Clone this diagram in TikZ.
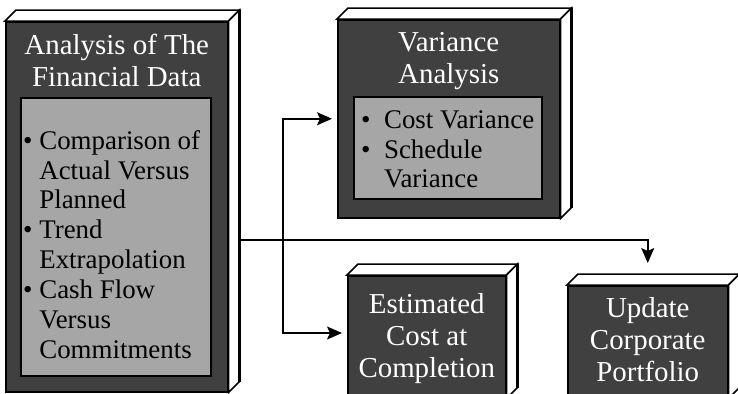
\documentclass[tikz,border=0pt]{standalone}
\usepackage{fontspec}
\setmainfont{Liberation Serif}
\usetikzlibrary{arrows.meta,calc,positioning}
\definecolor{slabgray}{HTML}{404040}
\definecolor{panelgray}{HTML}{A6A6A6}
\tikzset{
  % front face of a box; top and right faces are added by \slabsides
  slab/.style     = {draw=black, line width=1.5bp, fill=slabgray,
                     inner sep=0pt, anchor=north west},
  slabside/.style = {draw=black, line width=1.5bp, fill=white},
  panel/.style    = {draw=black, line width=1.5bp, fill=panelgray,
                     inner sep=0pt, anchor=north west},
  title/.style    = {text=white, align=center, inner sep=0pt,
                     font=\fontsize{29}{32}\selectfont},
  items/.style    = {text=black, inner sep=0pt,
                     font=\fontsize{27}{30}\selectfont},
  flow/.style     = {line width=1.5bp,
                     -{Stealth[length=15bp, width=13bp, inset=3bp]}},
}
\newcommand{\slabsides}[1]{%
  \draw[slabside] (#1.north west) -- ++(11,-11)
    -- ($(#1.north east)+(11,-11)$) -- (#1.north east) -- cycle;
  \draw[slabside] (#1.north east) -- ++(11,-11)
    -- ($(#1.south east)+(11,-11)$) -- (#1.south east) -- cycle;
  \draw[line width=3bp] ($(#1.north east)+(11,-11)$)
    -- ($(#1.south east)+(11,-11)$);
}

\begin{document}
\begin{tikzpicture}[x=1bp, y=-1bp]
    \useasboundingbox (0,0) rectangle (738,393);

    \node[slab, minimum width=222bp, minimum height=370bp] (fin) at (5,21) {};
    \node[slab, minimum width=222bp, minimum height=198bp] (var) at (337,19) {};
    \node[slab, minimum width=158bp, minimum height=122bp] (est) at (347,275) {};
    \node[slab, minimum width=160bp, minimum height=112bp] (upd) at (567,285) {};

    \node[panel, minimum width=190bp, minimum height=278bp] (finlist) at (20,97) {};
    \node[panel, minimum width=188bp, minimum height=102bp] (varlist) at (353,96) {};

    \node[title, below=13bp of fin.north] (fintitle)
        {Analysis of The\\Financial Data};
    \node[title, below=13bp of var.north] (vartitle)
        {Variance\\Analysis};
    \node[title, below=18bp of est.north] (esttitle)
        {Estimated\\Cost at\\Completion};
    \node[title, below=12bp of upd.north] (updtitle)
        {Update\\Corporate\\Portfolio};

    \node[items, below right=31bp and 3bp of finlist.north west] (finitems)
        {\begin{tabular}{@{}l@{\ }l@{}}
         \textbullet & Comparison of\\
                     & Actual Versus\\
                     & Planned\\
         \textbullet & Trend\\
                     & Extrapolation\\
         \textbullet & Cash Flow\\
                     & Versus\\
                     & Commitments
         \end{tabular}};
    \node[items, below right=11bp and 8bp of varlist.north west] (varitems)
        {\begin{tabular}{@{}l@{\ \ }l@{}}
         \textbullet & Cost Variance\\
         \textbullet & Schedule\\
                     & Variance
         \end{tabular}};

    % connectors first, so the side faces cover their start
    \coordinate (split) at (283,240);
    \coordinate (estin) at ($(est.north west)+(0,58)$);
    \draw[flow, shorten >=22bp] (fin.east |- split) -| (upd.north);
    \draw[flow, shorten >=5bp] (split) |- (var.west);
    \draw[flow, shorten >=5bp] (split) |- (estin);

    \slabsides{fin}
    \slabsides{var}
    \slabsides{est}
    \slabsides{upd}
\end{tikzpicture}
\end{document}
